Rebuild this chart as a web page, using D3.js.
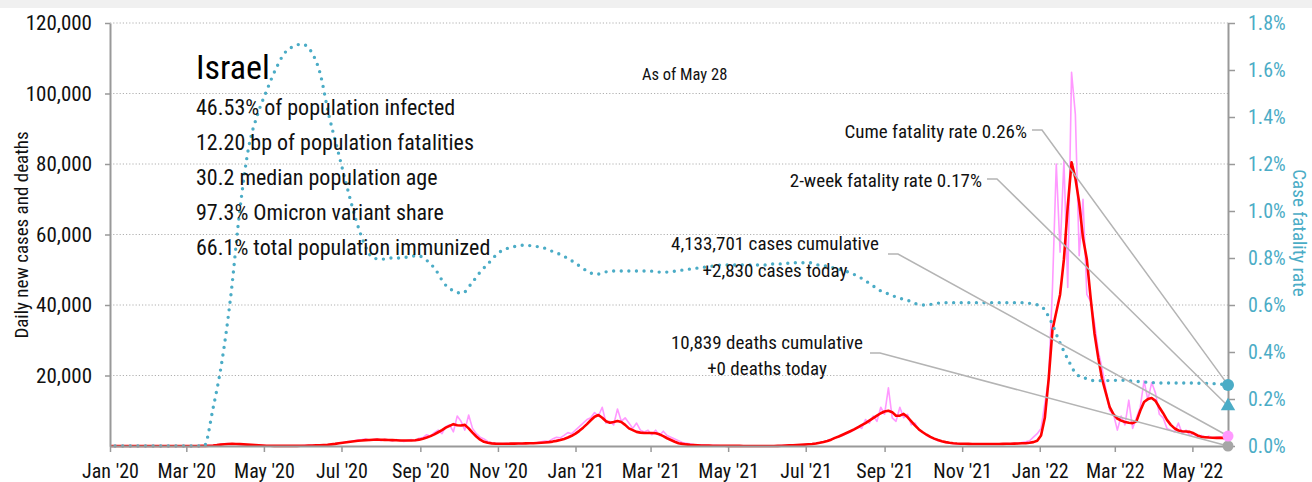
<!DOCTYPE html>
<html>
<head>
<meta charset="utf-8">
<script src="https://cdn.jsdelivr.net/npm/d3@7"></script>
<style>
  body { margin: 0; background: #fff; }
  svg { display: block; font-family: "Roboto Condensed", Roboto, sans-serif; font-stretch: condensed; }
</style>
</head>
<body>
<svg id="chart" width="1312" height="482"></svg>
<script>
// ---- Israel COVID-19 series ----
const START = Date.UTC(2020, 0, 1);
const END = Date.UTC(2022, 4, 29);
const DAY = 86400000;

// Daily new cases, one value every 3 days from Jan 1 2020
const caseStepDays = 3;
const dailyCases = [
  0,0,0,0,0,0,0,0,0,0,
  0,0,0,0,0,0,0,0,0,0,
  0,0,0,5,20,50,100,150,300,450,
  600,700,550,500,450,350,300,250,200,150,
  100,60,40,30,20,20,15,20,30,50,
  80,120,150,200,180,250,300,350,500,600,
  900,1000,1200,1300,1500,1700,1800,2000,1600,1800,
  2000,1500,1900,1700,1400,1800,1600,1300,1600,1800,
  1500,2200,2400,3200,2800,3800,4500,3500,5500,6000,
  4000,8500,7000,4500,8800,5000,3500,2500,2000,1300,
  900,800,700,600,750,650,700,750,650,800,
  850,900,1000,1200,1400,1300,2000,2500,2300,3000,
  3800,3500,4500,5500,6500,7500,8000,9500,8500,11000,
  6500,7000,6000,10500,7000,8000,6500,5000,6500,4500,
  4000,4500,3200,4500,3000,4200,3000,2500,2000,1500,
  1000,800,600,400,300,250,200,150,120,100,
  80,70,60,50,40,30,30,20,20,15,
  15,10,15,20,30,60,100,150,200,250,
  300,350,400,500,600,800,1000,1200,1500,2000,
  2200,2800,3000,3500,4000,4500,5500,5000,7500,6500,
  8500,7000,11000,9000,16500,8000,7000,11000,8000,9000,
  6000,6500,4500,4000,3000,2500,2000,1500,1300,1000,
  800,700,600,650,550,600,500,550,500,600,
  550,500,600,650,600,700,650,750,800,1000,
  1200,1500,2500,3500,5000,12000,19000,45000,80000,55000,
  81000,45000,106000,94000,54000,70000,43000,41000,35000,27000,
  22000,16000,10000,9000,4500,8500,6000,13000,5000,8000,
  11000,18500,13000,18000,15000,9000,8000,5000,4500,4000,
  6500,3500,4500,3000,3500,2500,3000,2400,2800,2200,
  2500,2600,2000,2830
];

// 7-day average of new cases, same 3-day spacing
const avgCases = [
  0,0,0,0,0,0,0,0,0,0,
  0,0,0,0,0,0,0,0,0,1,
  2,3,5,10,25,45,80,140,250,400,
  500,570,590,560,520,460,380,320,250,190,
  130,90,60,45,35,28,25,25,28,35,
  55,80,110,150,190,230,290,360,470,600,
  760,900,1050,1200,1350,1480,1580,1660,1720,1780,
  1800,1780,1740,1700,1660,1620,1580,1550,1540,1560,
  1650,1800,2050,2400,2800,3300,3900,4500,5200,5700,
  6200,5900,5800,6000,5000,3800,2700,1800,1200,900,
  750,680,650,640,650,660,680,700,720,740,
  770,800,850,920,1000,1100,1250,1450,1700,2000,
  2400,2900,3500,4300,5200,6200,7300,8300,8800,8000,
  7000,6600,6800,7100,6800,6000,5000,4500,4000,3800,
  3700,3700,3700,3600,3300,2800,2200,1700,1200,800,
  600,450,330,250,190,150,120,100,80,70,
  60,50,40,35,30,25,20,18,15,14,
  13,12,12,14,18,30,60,110,170,230,
  290,340,400,480,580,720,900,1150,1450,1800,
  2300,2700,3200,3700,4200,4700,5300,5900,6500,7200,
  7900,8600,9300,9800,10000,9600,8600,8600,9100,8200,
  7000,5800,4700,3900,3200,2600,2100,1700,1350,1100,
  900,780,700,650,620,600,580,570,560,560,
  560,560,570,580,600,620,640,670,700,760,
  800,900,1100,1500,3000,8000,19000,33000,38000,43000,
  53000,68000,80500,76000,69000,59000,53000,42000,32000,25000,
  19000,15000,11000,9000,7800,7200,6800,6600,6500,7000,
  10000,12500,13300,13600,12800,11000,9300,7400,6000,5000,
  4400,4200,4100,4000,3600,3000,2600,2500,2400,2350,
  2300,2300,2300,2300
];

// Cumulative case fatality rate (%), weekly from Jan 5 2020
const cfrStartDay = 4;
const cfrStepDays = 7;
const caseFatalityRate = [
  0,0,0,0,0,0,0,0,0,0,
  0,0.16,0.36,0.64,1.00,1.27,1.41,1.51,1.60,1.67,
  1.70,1.71,1.68,1.59,1.41,1.26,1.11,0.97,0.86,0.80,
  0.795,0.80,0.80,0.805,0.81,0.79,0.75,0.69,0.66,0.65,
  0.69,0.74,0.78,0.82,0.84,0.85,0.855,0.85,0.845,0.83,
  0.815,0.795,0.77,0.745,0.73,0.74,0.745,0.745,0.745,0.745,
  0.745,0.74,0.74,0.745,0.75,0.755,0.76,0.765,0.77,0.77,
  0.77,0.77,0.77,0.77,0.775,0.775,0.78,0.78,0.78,0.77,
  0.765,0.755,0.745,0.73,0.71,0.685,0.66,0.645,0.63,0.62,
  0.605,0.60,0.605,0.61,0.61,0.61,0.61,0.61,0.61,0.61,
  0.61,0.61,0.61,0.605,0.595,0.54,0.45,0.37,0.305,0.288,
  0.278,0.278,0.279,0.28,0.277,0.274,0.271,0.269,0.268,0.268,
  0.268,0.268,0.267,0.266,0.264,0.26
];

// Latest readings shown at the right edge
const cumeFatalityRate = 0.26;
const twoWeekFatalityRate = 0.17;
const casesCumulative = 4133701;
const casesToday = 2830;
const deathsCumulative = 10839;
const deathsToday = 0;

const caseTicks = [20000, 40000, 60000, 80000, 100000, 120000];
const rateTicks = [0, 0.2, 0.4, 0.6, 0.8, 1.0, 1.2, 1.4, 1.6, 1.8];

const countryName = "Israel";
const statLines = [
  "46.53% of population infected",
  "12.20 bp of population fatalities",
  "30.2 median population age",
  "97.3% Omicron variant share",
  "66.1% total population immunized"
];
const asOfText = "As of May 28";

// ---- colours ----
const CYAN = "#4bacc6";
const PINK = "#ff99ff";
const RED = "#ff0000";
const AXIS = "#999999";
const LEADER = "#b4b4b4";

// ---- layout ----
const svg = d3.select("#chart");
const W = 1312;
const plotL = 110, plotR = 1228, plotT = 23, plotB = 446;

svg.append("rect").attr("x", 0).attr("y", 0).attr("width", W).attr("height", 8).attr("fill", "#f0f0f0");

const x = d3.scaleUtc().domain([START, END]).range([plotL, plotR]);
const y = d3.scaleLinear().domain([0, 120000]).range([plotB, plotT]);
const yR = d3.scaleLinear().domain([0, 1.8]).range([plotB, plotT]);

// gridlines
svg.append("g").selectAll("line").data(caseTicks).join("line")
  .attr("x1", plotL).attr("x2", plotR)
  .attr("y1", d => y(d)).attr("y2", d => y(d))
  .attr("stroke", "#b0b0b0").attr("stroke-width", 1)
  .attr("stroke-dasharray", "1.2,2");

// series
const caseDate = i => START + i * caseStepDays * DAY;
const cfrDate = i => START + (cfrStartDay + i * cfrStepDays) * DAY;

svg.append("path").datum(dailyCases)
  .attr("fill", "none").attr("stroke", PINK).attr("stroke-width", 1.6)
  .attr("stroke-linejoin", "round")
  .attr("d", d3.line().x((d, i) => x(caseDate(i))).y(d => y(d)));

svg.append("path").datum(avgCases)
  .attr("fill", "none").attr("stroke", RED).attr("stroke-width", 2.6)
  .attr("stroke-linejoin", "round")
  .attr("d", d3.line().x((d, i) => x(caseDate(i))).y(d => y(d)));

svg.append("path").datum(caseFatalityRate)
  .attr("fill", "none").attr("stroke", CYAN).attr("stroke-width", 3.4)
  .attr("stroke-linecap", "round").attr("stroke-dasharray", "0,7.6")
  .attr("d", d3.line().curve(d3.curveMonotoneX).x((d, i) => x(cfrDate(i))).y(d => yR(d)));

// axes: drop d3's default font attributes so the page font applies
function styleAxis(g, labelColor, labelSize) {
  g.attr("font-family", null).attr("font-size", null);
  g.select(".domain").attr("stroke", AXIS).attr("stroke-width", 2);
  g.selectAll(".tick line").attr("stroke", AXIS).attr("stroke-width", 1.5);
  g.selectAll(".tick text").attr("fill", labelColor).style("font-size", labelSize);
}

const gx = svg.append("g").attr("transform", `translate(0,${plotB})`)
  .call(d3.axisBottom(x)
    .ticks(d3.utcMonth.every(2))
    .tickFormat(d3.utcFormat("%b '%y"))
    .tickSize(6).tickPadding(12).tickSizeOuter(0));
styleAxis(gx, "#111", "20px");

const gl = svg.append("g").attr("transform", `translate(${plotL},0)`)
  .call(d3.axisLeft(y).tickValues(caseTicks).tickFormat(d3.format(","))
    .tickSize(5).tickPadding(13).tickSizeOuter(0));
styleAxis(gl, "#111", "21px");

const gr = svg.append("g").attr("transform", `translate(${plotR},0)`)
  .call(d3.axisRight(yR).tickValues(rateTicks).tickFormat(d => d.toFixed(1) + "%")
    .tickSize(7).tickPadding(13).tickSizeOuter(0));
styleAxis(gr, CYAN, "20px");

// axis titles
svg.append("text").attr("transform", `translate(28,235) rotate(-90)`)
  .attr("text-anchor", "middle").attr("fill", "#111").style("font-size", "19px")
  .text("Daily new cases and deaths");
svg.append("text").attr("transform", `translate(1293,233) rotate(90)`)
  .attr("text-anchor", "middle").attr("fill", CYAN).style("font-size", "19px")
  .text("Case fatality rate");

// headline block
svg.append("text").attr("x", 196).attr("y", 79).attr("fill", "#000")
  .style("font-size", "34px").text(countryName);
svg.append("g").selectAll("text").data(statLines).join("text")
  .attr("x", 196).attr("y", (d, i) => 115 + i * 35)
  .attr("fill", "#111").style("font-size", "22px").text(d => d);
svg.append("text").attr("x", 642).attr("y", 80).attr("fill", "#111")
  .style("font-size", "16.5px").text(asOfText);

// leader lines to the latest readings
const endX = x(END);
const leaders = [
  { x0: 1032, y0: 130, yEnd: yR(cumeFatalityRate) },
  { x0: 987, y0: 179, yEnd: yR(twoWeekFatalityRate) },
  { x0: 888, y0: 254, yEnd: y(casesToday) },
  { x0: 870, y0: 353, yEnd: y(deathsToday) }
];
svg.append("g").selectAll("path").data(leaders).join("path")
  .attr("fill", "none").attr("stroke", LEADER).attr("stroke-width", 1.5)
  .attr("d", d => `M${d.x0},${d.y0}H${d.x0 + 10}L${endX},${d.yEnd}`);

// annotation texts
const fmt = d3.format(",");
const annot = svg.append("g").attr("fill", "#111").style("font-size", "19px");
annot.append("text").attr("x", 1027).attr("y", 138).attr("text-anchor", "end")
  .text(`Cume fatality rate ${cumeFatalityRate.toFixed(2)}%`);
annot.append("text").attr("x", 982).attr("y", 187).attr("text-anchor", "end")
  .text(`2-week fatality rate ${twoWeekFatalityRate.toFixed(2)}%`);
annot.append("text").attr("x", 775).attr("y", 250).attr("text-anchor", "middle")
  .text(`${fmt(casesCumulative)} cases cumulative`);
annot.append("text").attr("x", 775).attr("y", 277).attr("text-anchor", "middle")
  .text(`+${fmt(casesToday)} cases today`);
annot.append("text").attr("x", 767).attr("y", 349).attr("text-anchor", "middle")
  .text(`${fmt(deathsCumulative)} deaths cumulative`);
annot.append("text").attr("x", 767).attr("y", 375).attr("text-anchor", "middle")
  .text(`+${deathsToday} deaths today`);

// end markers
svg.append("circle").attr("cx", endX).attr("cy", y(deathsToday)).attr("r", 5.5).attr("fill", "#a6a6a6");
svg.append("circle").attr("cx", endX).attr("cy", y(casesToday)).attr("r", 5.5).attr("fill", PINK);
svg.append("path").attr("transform", `translate(${endX},${yR(twoWeekFatalityRate)})`)
  .attr("d", d3.symbol(d3.symbolTriangle, 90)()).attr("fill", CYAN);
svg.append("circle").attr("cx", endX).attr("cy", yR(cumeFatalityRate)).attr("r", 6).attr("fill", CYAN);
</script>
</body>
</html>
